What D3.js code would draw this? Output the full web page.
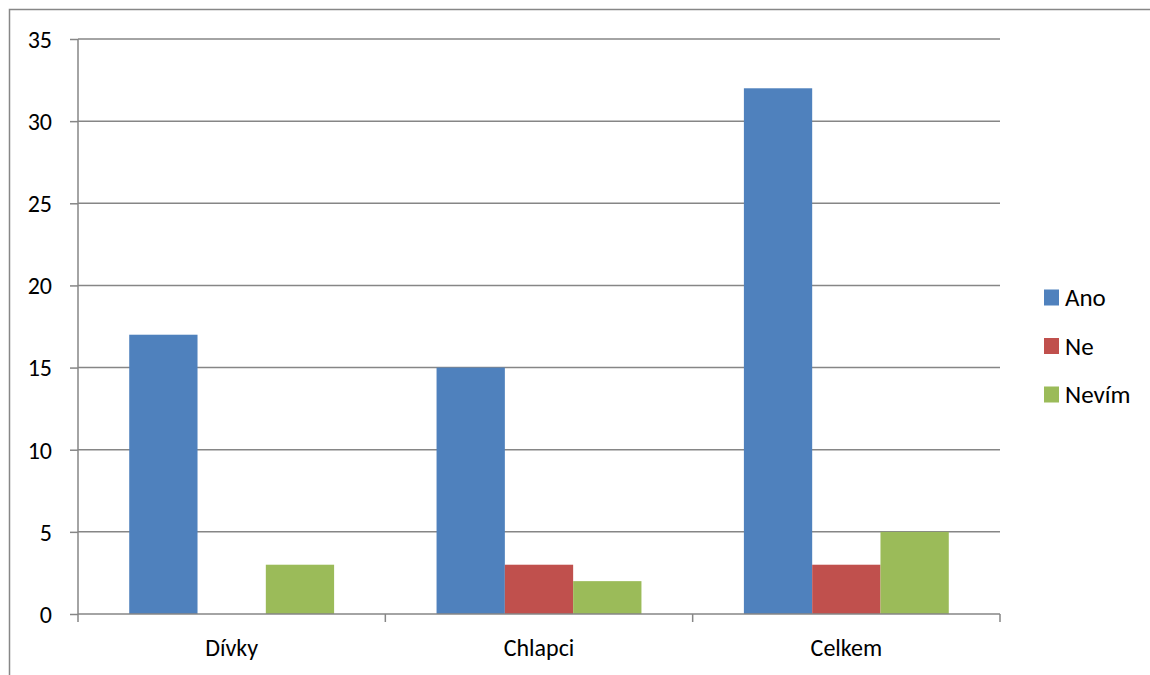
<!DOCTYPE html>
<html><head><meta charset="utf-8">
<script src="https://cdn.jsdelivr.net/npm/d3@7"></script>
<style>body{margin:0;background:#fff}svg{display:block}text{font-family:Carlito,"Liberation Sans",Arial,sans-serif}</style>
</head><body><svg id="c" width="1150" height="675"></svg>
<script>
const categories = ["Dívky", "Chlapci", "Celkem"];
const seriesNames = ["Ano", "Ne", "Nevím"];
const seriesColors = ["#4F81BD", "#C0504D", "#9BBB59"];
const ano = [17, 15, 32];
const ne = [0, 3, 3];
const nevim = [3, 2, 5];
const yTicks = [0, 5, 10, 15, 20, 25, 30, 35];
const values = [ano, ne, nevim];

const FONT = 'Carlito,"Liberation Sans",Arial,sans-serif';
const svg = d3.select("#c");
const L = 78, R = 1000, T = 39, B = 614;
// frame
svg.append("rect").attr("x", 9.5).attr("y", 9.5).attr("width", 1150).attr("height", 700)
  .attr("fill", "none").attr("stroke", "#878787").attr("stroke-width", 1.5);

const x0 = d3.scaleBand().domain(categories).range([L, R]).paddingInner(0).paddingOuter(0);
const x1 = d3.scaleBand().domain(seriesNames).range([0, x0.bandwidth()]).paddingInner(0).paddingOuter(0.75);
const y = d3.scaleLinear().domain([0, 35]).range([B, T]);

// gridlines
svg.append("g").selectAll("line").data(yTicks.filter(d => d > 0)).join("line")
  .attr("x1", L).attr("x2", R).attr("y1", d => y(d)).attr("y2", d => y(d))
  .attr("stroke", "#868686").attr("stroke-width", 1.5);

// bars
const g = svg.append("g");
categories.forEach((c, ci) => {
  seriesNames.forEach((s, si) => {
    const v = values[si][ci];
    g.append("rect").attr("x", x0(c) + x1(s)).attr("width", x1.bandwidth())
      .attr("y", y(v)).attr("height", B - y(v)).attr("fill", seriesColors[si]);
  });
});

// y axis
const ya = svg.append("g").attr("transform", `translate(${L},0)`)
  .call(d3.axisLeft(y).tickValues(yTicks).tickSize(8).tickPadding(18));
ya.attr("font-size", 24).attr("font-family", FONT);
ya.select(".domain").attr("stroke", "#868686").attr("stroke-width", 1.5).attr("d", `M0,${T}V${B}`);
ya.selectAll(".tick line").attr("stroke", "#868686").attr("stroke-width", 1.5);
ya.selectAll(".tick text").attr("font-size", 24).attr("fill", "#000").attr("dy", "0.35em");

// x axis
const xa = svg.append("g").attr("transform", `translate(0,${B})`)
  .call(d3.axisBottom(x0).tickSize(0).tickPadding(25));
xa.attr("font-size", 24).attr("font-family", FONT);
xa.select(".domain").attr("stroke", "#868686").attr("stroke-width", 1.5).attr("d", `M${L},0H${R}`);
xa.selectAll(".tick text").attr("font-size", 24).attr("fill", "#000");
const bounds = [L].concat(categories.map(c => x0(c) + x0.bandwidth()));
xa.append("g").selectAll("line").data(bounds).join("line")
  .attr("x1", d => d).attr("x2", d => d).attr("y1", 0).attr("y2", 8)
  .attr("stroke", "#868686").attr("stroke-width", 1.5);

// legend
const lg = svg.append("g");
seriesNames.forEach((s, i) => {
  const cy = 297.5 + i * 48.5;
  lg.append("rect").attr("x", 1044).attr("y", cy - 8).attr("width", 15).attr("height", 16).attr("fill", seriesColors[i]);
  lg.append("text").attr("x", 1065).attr("y", cy).attr("dy", "0.35em").attr("font-size", 25)
    .attr("font-family", FONT).attr("fill", "#000").text(s);
});
</script></body></html>
